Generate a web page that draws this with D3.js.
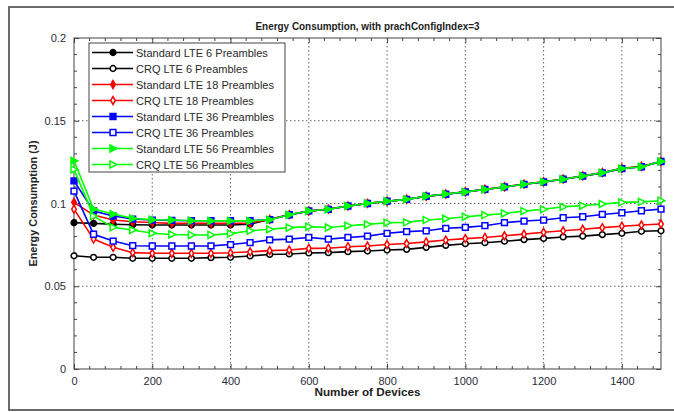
<!DOCTYPE html>
<html><head><meta charset="utf-8">
<script src="https://cdn.jsdelivr.net/npm/d3@7"></script>
<style>body{margin:0;background:#fff}svg{display:block}text{font-family:Arial,"Liberation Sans",sans-serif}</style>
</head><body><svg id="c" width="674" height="412"></svg>
<script>
const devices = [0,50,100,150,200,250,300,350,400,450,500,550,600,650,700,750,800,850,900,950,1000,1050,1100,1150,1200,1250,1300,1350,1400,1450,1500];
const std6  = [0.0884,0.0880,0.0875,0.0872,0.0870,0.0870,0.0870,0.0870,0.0870,0.0875,0.0903,0.0931,0.0954,0.0965,0.0984,0.1000,0.1013,0.1025,0.1043,0.1056,0.1070,0.1085,0.1100,0.1116,0.1130,0.1147,0.1165,0.1185,0.1210,0.1222,0.1253];
const crq6  = [0.0684,0.0675,0.0675,0.0669,0.0669,0.0669,0.0669,0.0673,0.0675,0.0683,0.0692,0.0695,0.0701,0.0703,0.0709,0.0713,0.0719,0.0723,0.0735,0.0747,0.0757,0.0763,0.0772,0.0782,0.0789,0.0798,0.0803,0.0812,0.0820,0.0832,0.0835];
const std18 = [0.1007,0.0930,0.0900,0.0890,0.0885,0.0880,0.0880,0.0880,0.0880,0.0882,0.0904,0.0933,0.0955,0.0966,0.0985,0.1001,0.1014,0.1026,0.1044,0.1057,0.1071,0.1086,0.1101,0.1117,0.1131,0.1148,0.1167,0.1187,0.1213,0.1225,0.1254];
const crq18 = [0.0966,0.0785,0.0735,0.0703,0.0699,0.0699,0.0699,0.0699,0.0702,0.0708,0.0715,0.0719,0.0729,0.0730,0.0739,0.0743,0.0752,0.0758,0.0768,0.0779,0.0788,0.0795,0.0805,0.0815,0.0826,0.0835,0.0844,0.0854,0.0863,0.0870,0.0876];
const std36 = [0.1137,0.0955,0.0924,0.0906,0.0900,0.0898,0.0896,0.0896,0.0896,0.0896,0.0903,0.0932,0.0955,0.0965,0.0985,0.1000,0.1014,0.1025,0.1044,0.1056,0.1070,0.1085,0.1100,0.1116,0.1130,0.1147,0.1166,0.1185,0.1211,0.1222,0.1254];
const crq36 = [0.1075,0.0814,0.0773,0.0745,0.0743,0.0743,0.0743,0.0744,0.0752,0.0764,0.0780,0.0785,0.0795,0.0785,0.0795,0.0803,0.0820,0.0830,0.0835,0.0850,0.0856,0.0866,0.0884,0.0894,0.0900,0.0914,0.0920,0.0934,0.0944,0.0956,0.0966];
const std56 = [0.1258,0.0966,0.0936,0.0910,0.0902,0.0900,0.0896,0.0895,0.0895,0.0895,0.0902,0.0932,0.0955,0.0965,0.0985,0.1001,0.1014,0.1025,0.1044,0.1057,0.1070,0.1085,0.1100,0.1116,0.1131,0.1147,0.1166,0.1186,0.1211,0.1222,0.1254];
const crq56 = [0.1206,0.0924,0.0856,0.0840,0.0820,0.0813,0.0810,0.0810,0.0818,0.0835,0.0844,0.0854,0.0860,0.0855,0.0866,0.0874,0.0884,0.0886,0.0900,0.0908,0.0920,0.0930,0.0940,0.0954,0.0965,0.0980,0.0987,0.0997,0.1007,0.1010,0.1017];
const seriesNames = ["Standard LTE 6 Preambles","CRQ LTE 6 Preambles","Standard LTE 18 Preambles","CRQ LTE 18 Preambles","Standard LTE 36 Preambles","CRQ LTE 36 Preambles","Standard LTE 56 Preambles","CRQ LTE 56 Preambles"];
const seriesColors = ["#000000","#000000","#ff0000","#ff0000","#0000ff","#0000ff","#00ff00","#00ff00"];
const seriesMarkers = ["circle","circle","diamond","diamond","square","square","triangle","triangle"];
const seriesFilled = [true,false,true,false,true,false,true,false];
const xTicks = [0,200,400,600,800,1000,1200,1400];
const yTicks = [0,0.05,0.1,0.15,0.2];
const yTickLabels = ["0","0.05","0.1","0.15","0.2"];
const titleText = "Energy Consumption, with prachConfigIndex=3";
const xLabel = "Number of Devices";
const yLabel = "Energy Consumption (J)";

const allValues = [std6,crq6,std18,crq18,std36,crq36,std56,crq56];

const svg = d3.select("#c");
svg.append("rect").attr("width",674).attr("height",412).attr("fill","#fff");
svg.append("rect").attr("x",9).attr("y",7).attr("width",672).attr("height",403)
  .attr("fill","none").attr("stroke","#6a6a6a").attr("stroke-width",2);

const L=74,R=661,T=38,B=369;
const x = d3.scaleLinear().domain([0,1500]).range([L,R]);
const y = d3.scaleLinear().domain([0,0.2]).range([B,T]);

// grid
const g = svg.append("g");
g.selectAll(".gx").data(xTicks.filter(d=>d>0)).join("line")
  .attr("x1",d=>x(d)).attr("x2",d=>x(d)).attr("y1",T).attr("y2",B)
  .attr("stroke","#666").attr("stroke-width",1).attr("stroke-dasharray","1.5,2.5");
g.selectAll(".gy").data(yTicks.filter(d=>d>0&&d<0.2)).join("line")
  .attr("x1",L).attr("x2",R).attr("y1",d=>y(d)).attr("y2",d=>y(d))
  .attr("stroke","#666").attr("stroke-width",1).attr("stroke-dasharray","1.5,2.5");

// axes with inward ticks
const minorX = d3.range(0,1501,40).filter(d=>d%200!==0);
const minorY = d3.range(0,21).map(d=>d/100).filter(d=>Math.round(d*100)%5!==0);
const axB = d3.axisBottom(x).tickValues(xTicks).tickSize(-5).tickPadding(8).tickFormat(d3.format("d"));
const axT = d3.axisTop(x).tickValues(xTicks).tickSize(-5).tickFormat("");
const axL = d3.axisLeft(y).tickValues(yTicks).tickSize(-5).tickPadding(8).tickFormat((d,i)=>yTickLabels[i]);
const axR = d3.axisRight(y).tickValues(yTicks).tickSize(-5).tickFormat("");
function styleAx(sel){sel.select(".domain").remove();sel.selectAll("line").attr("stroke","#444");
  sel.selectAll("text").attr("font-size",11).attr("fill","#2a2a3a").attr("font-family","Arial, 'Liberation Sans', sans-serif");}
svg.append("g").attr("transform",`translate(0,${B})`).call(axB).call(styleAx);
svg.append("g").attr("transform",`translate(0,${T})`).call(axT).call(styleAx);
svg.append("g").attr("transform",`translate(${L},0)`).call(axL).call(styleAx);
svg.append("g").attr("transform",`translate(${R},0)`).call(axR).call(styleAx);
const mx = svg.append("g");
minorX.forEach(d=>{
  mx.append("line").attr("x1",x(d)).attr("x2",x(d)).attr("y1",B).attr("y2",B-3).attr("stroke","#444");
  mx.append("line").attr("x1",x(d)).attr("x2",x(d)).attr("y1",T).attr("y2",T+3).attr("stroke","#444");
});
minorY.forEach(d=>{
  mx.append("line").attr("x1",L).attr("x2",L+3).attr("y1",y(d)).attr("y2",y(d)).attr("stroke","#444");
  mx.append("line").attr("x1",R).attr("x2",R-3).attr("y1",y(d)).attr("y2",y(d)).attr("stroke","#444");
});
svg.append("rect").attr("x",L).attr("y",T).attr("width",R-L).attr("height",B-T)
  .attr("fill","none").attr("stroke","#444").attr("stroke-width",1);

// markers
function markerPath(type){
  if(type==="circle") return d3.symbol(d3.symbolCircle,26)();
  if(type==="square") return d3.symbol(d3.symbolSquare,34)();
  if(type==="diamond") return d3.symbol(d3.symbolDiamond,18)();
  return "M-3,-3.5L3.8,0L-3,3.5Z";
}

const line = d3.line().x((d,i)=>x(devices[i])).y(d=>y(d));
allValues.forEach((vals,k)=>{
  const gs = svg.append("g");
  gs.append("path").datum(vals).attr("d",line).attr("fill","none")
    .attr("stroke",seriesColors[k]).attr("stroke-width",1.6);
  gs.selectAll("path.m").data(vals).join("path").attr("class","m")
    .attr("transform",(d,i)=>`translate(${x(devices[i])},${y(d)})`)
    .attr("d",markerPath(seriesMarkers[k]))
    .attr("fill",seriesFilled[k]?seriesColors[k]:"#fff")
    .attr("stroke",seriesColors[k]).attr("stroke-width",1.5);
});

// title & labels
svg.append("text").attr("x",(L+R)/2).attr("y",30).attr("text-anchor","middle")
  .attr("font-size",11).attr("font-weight","bold").attr("fill","#222")
  .attr("textLength",224).attr("lengthAdjust","spacingAndGlyphs").text(titleText);
svg.append("text").attr("x",(L+R)/2).attr("y",396).attr("text-anchor","middle")
  .attr("font-size",11).attr("font-weight","bold").attr("fill","#222")
  .attr("textLength",106).attr("lengthAdjust","spacingAndGlyphs").text(xLabel);
svg.append("text").attr("transform",`translate(37,${(T+B)/2}) rotate(-90)`).attr("text-anchor","middle")
  .attr("font-size",11).attr("font-weight","bold").attr("fill","#222")
  .attr("textLength",126).attr("lengthAdjust","spacingAndGlyphs").text(yLabel);

// legend
const lg = svg.append("g");
lg.append("rect").attr("x",89).attr("y",43).attr("width",196).attr("height",129)
  .attr("fill","#fff").attr("stroke","#444").attr("stroke-width",1);
seriesNames.forEach((name,k)=>{
  const yy = 52.5 + k*16;
  lg.append("line").attr("x1",92).attr("x2",133).attr("y1",yy).attr("y2",yy)
    .attr("stroke",seriesColors[k]).attr("stroke-width",1.6);
  lg.append("path").attr("transform",`translate(113,${yy})`).attr("d",markerPath(seriesMarkers[k]))
    .attr("fill",seriesFilled[k]?seriesColors[k]:"#fff").attr("stroke",seriesColors[k]).attr("stroke-width",1.5);
  lg.append("text").attr("x",136).attr("y",yy+4).attr("font-size",11).attr("fill","#2a2a2a").text(name);
});
</script></body></html>
